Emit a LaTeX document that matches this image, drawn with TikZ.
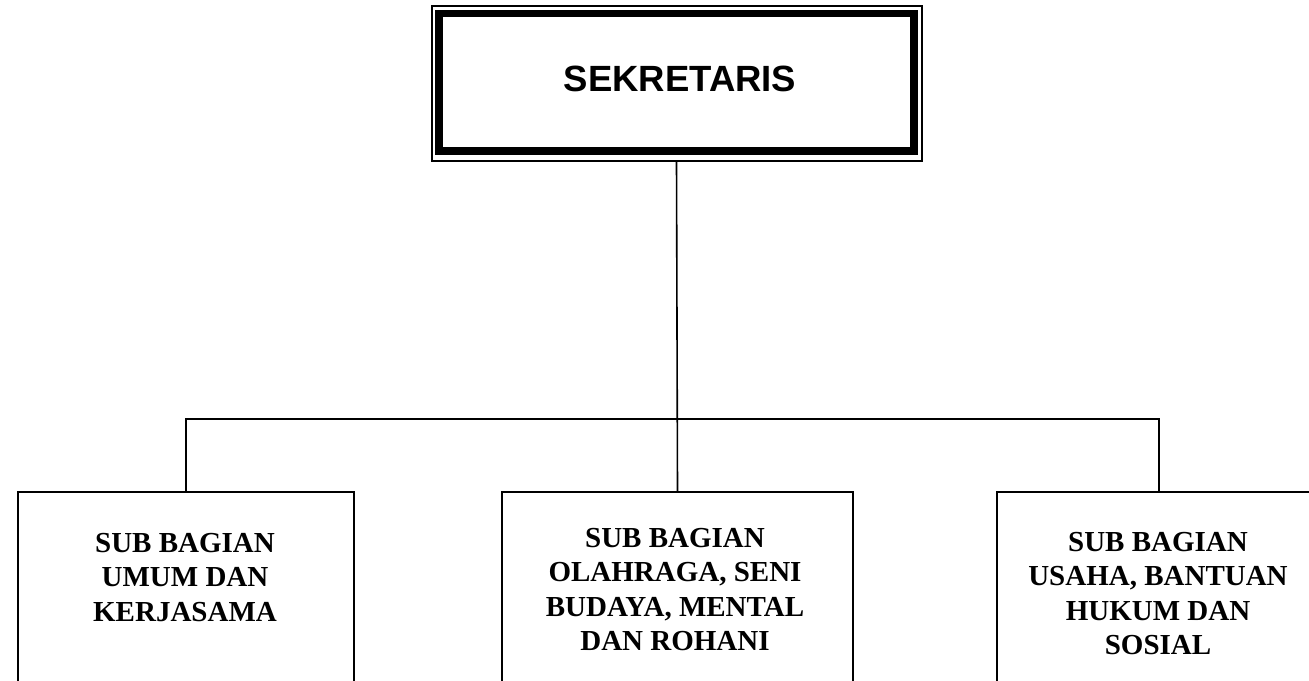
\documentclass[tikz,border=0pt]{standalone}
\usepackage{fontspec}
\setmainfont{Liberation Serif}
\newfontfamily\headfont{Liberation Sans}
\begin{document}
\begin{tikzpicture}[x=1pt,y=-1pt,
  thinframe/.style={draw=black,line width=2pt,minimum width=490pt,minimum height=154.5pt,inner sep=0pt},
  thickframe/.style={draw=black,line width=7.5pt,minimum width=475pt,minimum height=137.5pt,inner sep=0pt,
     font=\headfont\bfseries\fontsize{36.5}{40}\selectfont},
  subbox/.style={draw=black,line width=2pt,inner sep=0pt,anchor=north west},
  subtext/.style={font=\bfseries\fontsize{29}{34.5}\selectfont,align=center,inner sep=0pt,anchor=north},
  conn/.style={draw=black,line width=1.6pt}]
\useasboundingbox (0,0) rectangle (1309,680);
\clip (0,0) rectangle (1309,680);
% top box
\node[thinframe] (sekouter) at (676.5,83.25) {};
\node[thickframe] (sek) at (676.5,82.25) {};
\node[font=\headfont\bfseries\fontsize{36.5}{40}\selectfont,inner sep=0pt,anchor=base] (sektext) at (680,91) {SEKRETARIS};
% sub boxes
\node[subbox,minimum width=336pt,minimum height=260pt] (b1) at (17,491) {};
\node[subbox,minimum width=351pt,minimum height=260pt] (b2) at (501,491) {};
\node[subbox,minimum width=324pt,minimum height=260pt] (b3) at (996,491) {};
\node[subtext] (t1) at (185,533) {SUB BAGIAN\\UMUM DAN\\KERJASAMA};
\node[subtext] (t2) at (675,528) {SUB BAGIAN\\OLAHRAGA, SENI\\BUDAYA, MENTAL\\DAN ROHANI};
\node[subtext] (t3) at (1158,532) {SUB BAGIAN\\USAHA, BANTUAN\\HUKUM DAN\\SOSIAL};
% connectors
\coordinate (j) at (676.5,419);
\draw[conn] (sekouter.south) -- (b2.north);
\draw[conn] (b1.north) |- (j) -| (b3.north);
\end{tikzpicture}
\end{document}
